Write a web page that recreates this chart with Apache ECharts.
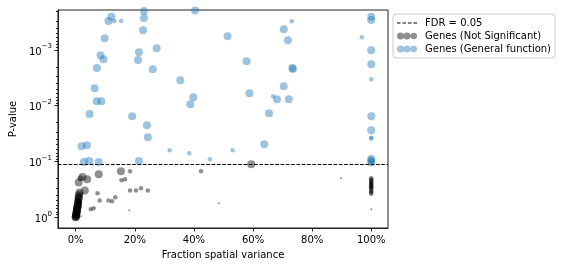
<!DOCTYPE html>
<html>
<head>
<meta charset="utf-8">
<script src="https://cdn.jsdelivr.net/npm/echarts@6/dist/echarts.min.js"></script>
<style>html,body{margin:0;padding:0;background:#fff}#c{width:561px;height:266px}</style>
</head>
<body>
<div id="c"></div>
<script>
// ---- data ----
const fdrP = 0.106;
const xTicks = [0, 0.2, 0.4, 0.6, 0.8, 1.0];
const yTicks = [1e-3, 1e-2, 1e-1, 1];
const yMinorTicks = [2e-4,3e-4,4e-4,5e-4,6e-4,7e-4,8e-4,9e-4,2e-3,3e-3,4e-3,5e-3,6e-3,7e-3,8e-3,9e-3,2e-2,3e-2,4e-2,5e-2,6e-2,7e-2,8e-2,9e-2,0.2,0.3,0.4,0.5,0.6,0.7,0.8,0.9];

// Genes (General function)
const gfX = [0.121,0.111,0.131,0.154,0.231,0.231,0.228,0.098,0.274,0.214,0.084,0.094,0.211,0.261,0.072,0.354,0.064,0.071,0.087,0.398,0.388,0.047,0.191,0.241,0.244,0.318,0.384,0.454,0.531,0.638,0.404,0.514,0.578,0.588,0.654,0.668,0.681,0.721,0.704,0.731,0.718,0.733,0.735,0.704,0.968,1.0,1.0,1.0,1.0,1.0,1.0,1.0,1.0,1.0,1.0,1.0,1.0,1.0,0.02,0.038,0.028,0.046,0.078,0.214];
const gfP = [2.53e-4,3.02e-4,3.02e-4,3.02e-4,2.0e-4,2.67e-4,4.44e-4,6.17e-4,9.3e-4,1.1e-3,1.24e-3,1.46e-3,1.52e-3,2.21e-3,2.1e-3,3.49e-3,4.86e-3,8.28e-3,8.28e-3,7.05e-3,9.41e-3,1.41e-2,1.55e-2,2.24e-2,3.67e-2,6.28e-2,7.1e-2,9.1e-2,6.28e-2,4.9e-2,1.95e-4,5.67e-4,1.6e-3,5.97e-3,1.37e-2,6.73e-3,7.66e-3,7.66e-3,4.24e-4,3.05e-4,6.7e-4,2.1e-3,2.2e-3,4.48e-3,5.9e-4,2.53e-4,2.9e-4,1.01e-3,1.8e-3,3.35e-3,1.55e-2,2.75e-2,3.75e-2,3.85e-2,0.09,0.096,0.1,0.104,5.33e-2,5.12e-2,0.102,0.0977,0.102,0.0977];
const gfW = [3,3,1,1,3,3,3,3,3,3,3,3,3,3,3,3,3,3,3,3,3,3,3,3,3,1,1,1,1,3,3,3,3,3,3,1,3,3,3,1,3,3,3,3,1,3,3,3,3,1,3,3,1,1,3,3,2,3,3,3,3,3,3,3];

// Genes (Not Significant)
const nsX = [0.153,0.184,0.078,0.023,0.016,0.039,0.010,0.155,0.167,0.031,0.074,0.184,0.204,0.221,0.244,0.081,0.111,0.123,0.134,0.051,0.061,0.181,0.018,0.424,0.594,0.484,0.898,1.0,
  1.0,1.0,1.0,1.0,1.0,1.0,1.0,1.0,1.0,1.0,1.0,1.0,1.0,1.0,1.0,
  0.013,0.012,0.010,0.011,0.009,0.010,0.008,0.007,0.008,0.006,0.006,0.005,0.005,0.004,0.004,0.003,0.003,0.002,0.002,0.001,0.001,0.0,0.0,0.007,0.012,0.003,0.009,0.002];
const nsP = [0.149,0.149,0.169,0.189,0.2,0.208,0.238,0.217,0.207,0.33,0.371,0.33,0.33,0.30,0.33,0.5,0.5,0.516,0.436,0.718,0.689,0.748,0.96,0.15,0.112,0.561,0.2,0.718,
  0.2,0.21,0.22,0.23,0.24,0.25,0.26,0.27,0.28,0.29,0.30,0.32,0.34,0.36,0.38,
  0.36,0.39,0.42,0.45,0.48,0.51,0.54,0.57,0.6,0.63,0.66,0.69,0.72,0.75,0.78,0.81,0.84,0.87,0.9,0.93,0.96,0.99,1.0,0.5,0.55,0.7,0.65,0.95];
const nsW = [3,1,3,3,2,3,3,1,1,3,1,1,1,1,1,1,1,1,1,1,1,0,0,1,3,0,0,0,
  1,1,1,1,1,1,1,1,1,1,1,1,1,1,1,
  3,3,3,3,3,2,3,3,3,3,3,3,3,3,3,3,3,3,3,3,3,3,3,2,2,2,2,2];

// ---- chart ----
const FONT = 'DejaVu Sans';
const SIZE_PX = [2, 4.5, 6, 8];
const supMap = {'-3':'−3','-2':'−2','-1':'−1','0':'0'};
const yMin = 1.92e-4, yMax = 1.556;
const dashIcon = 'path://M0,0h3.5v1.2h-3.5z M5.5,0h3.5v1.2h-3.5z M11,0h3.5v1.2h-3.5z M16.5,0h3.5v1.2h-3.5z';
const circIcon = 'path://M0,3.5a3.5,3.5 0 1,0 7,0a3.5,3.5 0 1,0 -7,0z M6.5,3.5a3.5,3.5 0 1,0 7,0a3.5,3.5 0 1,0 -7,0z M13.4,3.5a3.3,3.3 0 1,0 6.6,0a3.3,3.3 0 1,0 -6.6,0z';

const chart = echarts.init(document.getElementById('c'), null, {renderer: 'canvas'});
chart.setOption({
  animation: false,
  backgroundColor: '#fff',
  textStyle: {fontFamily: FONT},
  grid: {left: 53, right: 173, top: 10, bottom: 38, show: true, borderColor: '#222', borderWidth: 1, containLabel: false},
  legend: {
    orient: 'vertical', left: 393, top: 14,
    padding: [4, 4, 4, 4], itemGap: 3, itemWidth: 20, itemHeight: 7,
    borderColor: '#ccc', borderWidth: 1, borderRadius: 3,
    textStyle: {fontFamily: FONT, fontSize: 10, color: '#000', padding: [0, 0, 0, 3]},
    data: [
      {name: 'FDR = 0.05', icon: dashIcon},
      {name: 'Genes (Not Significant)', icon: circIcon},
      {name: 'Genes (General function)', icon: circIcon}
    ]
  },
  xAxis: {
    type: 'value', min: -0.06, max: 1.0567,
    name: 'Fraction spatial variance', nameLocation: 'middle', nameGap: 22,
    nameTextStyle: {fontFamily: FONT, fontSize: 10, color: '#000'},
    splitLine: {show: false},
    axisLine: {show: true, onZero: false, lineStyle: {color: '#222', width: 1}},
    axisTick: {show: true, length: 3.5, lineStyle: {color: '#222'}, customValues: xTicks},
    axisLabel: {fontFamily: FONT, fontSize: 10, color: '#000', margin: 7, customValues: xTicks,
      formatter: v => Math.round(v * 100) + '%'}
  },
  yAxis: [{
    type: 'log', inverse: true, min: yMin, max: yMax,
    name: 'P-value', nameLocation: 'middle', nameGap: 37,
    nameTextStyle: {fontFamily: FONT, fontSize: 10, color: '#000'},
    splitLine: {show: false},
    axisLine: {show: true, onZero: false, lineStyle: {color: '#222', width: 1}},
    axisTick: {show: true, length: 3.5, lineStyle: {color: '#222'}, customValues: yTicks},
    axisLabel: {fontFamily: FONT, fontSize: 10, color: '#000', margin: 6, customValues: yTicks,
      formatter: v => {
        const e = Math.round(Math.log10(v));
        return '{b|10}{s|' + supMap[String(e)] + '}';
      },
      rich: {
        b: {fontFamily: FONT, fontSize: 10, color: '#000', lineHeight: 14, verticalAlign: 'bottom'},
        s: {fontFamily: FONT, fontSize: 7, color: '#000', lineHeight: 9, verticalAlign: 'top'}
      }
    }
  }, {
    type: 'log', inverse: true, min: yMin, max: yMax, position: 'left',
    splitLine: {show: false},
    axisLine: {show: false, onZero: false},
    axisLabel: {show: false},
    axisTick: {show: true, length: 2, lineStyle: {color: '#222'}, customValues: yMinorTicks}
  }],
  series: [
    {
      name: 'FDR = 0.05', type: 'line', data: [],
      itemStyle: {color: '#000'}, lineStyle: {color: '#000'},
      markLine: {
        silent: true, symbol: 'none', z: 10,
        label: {show: false},
        lineStyle: {color: '#000', type: [3.7, 1.6], width: 1},
        data: [{yAxis: fdrP}]
      }
    },
    {
      name: 'Genes (Not Significant)', type: 'scatter',
      data: nsX.map((x, i) => [x, nsP[i], nsW[i]]),
      symbolSize: v => SIZE_PX[v[2]],
      itemStyle: {color: 'rgba(0,0,0,0.55)'}
    },
    {
      name: 'Genes (General function)', type: 'scatter',
      data: gfX.map((x, i) => [x, gfP[i], gfW[i]]),
      symbolSize: v => SIZE_PX[v[2]],
      itemStyle: {color: 'rgba(31,119,180,0.55)'}
    }
  ]
});
</script>
</body>
</html>
